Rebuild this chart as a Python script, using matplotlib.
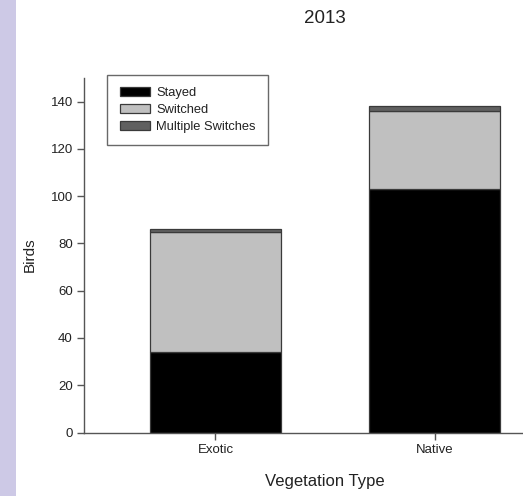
import matplotlib
matplotlib.use("Agg")
import matplotlib.pyplot as plt
from matplotlib.patches import Rectangle
import numpy as np

plt.rcParams['font.family'] = ['Liberation Sans', 'DejaVu Sans']

categories = ["Exotic", "Native"]
stayed = [34, 103]
switched = [51, 33]
multiple = [1, 2]
series_labels = ["Stayed", "Switched", "Multiple Switches"]
series_colors = ["#000000", "#c0c0c0", "#606060"]
yticks = [0, 20, 40, 60, 80, 100, 120, 140]

W, H = 523, 496
fig = plt.figure(figsize=(W / 100, H / 100), dpi=100)
fig.patch.set_facecolor("white")

# lavender strip down the left edge
fig.patches.append(Rectangle((0, 0), 16 / W, 1, transform=fig.transFigure,
                             facecolor="#cdc9e6", edgecolor="none", zorder=0))

left, right = 84 / W, 566 / W
bottom, top = 1 - 432.5 / H, 1 - 78 / H
ax = fig.add_axes([left, bottom, right - left, top - bottom])

x = np.arange(len(categories))
width = 0.6
edge = "#3a3a3a"
base = np.zeros(len(categories))
for vals, lab, col in zip([stayed, switched, multiple], series_labels, series_colors):
    ax.bar(x, vals, width, bottom=base, color=col, edgecolor=edge, linewidth=0.9,
           label=lab, zorder=2)
    base = base + np.array(vals)

ax.set_xlim(-0.6, 1.6)
ax.set_ylim(0, 150)
ax.set_yticks(yticks)
ax.set_xticks(x)
ax.set_xticklabels(categories)

for s in ["top", "right"]:
    ax.spines[s].set_visible(False)
for s in ["left", "bottom"]:
    ax.spines[s].set_color("#555555")
    ax.spines[s].set_linewidth(1.0)
ax.tick_params(axis="both", direction="out", length=5, width=1.0, color="#555555",
               labelsize=9.5, labelcolor="#222222", pad=3)

ax.set_xlabel("Vegetation Type", fontsize=12, color="#222222", labelpad=13)
fig.text(29.5 / W, 1 - 254.7 / H, "Birds", rotation=90, ha="center", va="center",
         fontsize=11, color="#222222")

fig.text((left + right) / 2, 1 - 22.7 / H, "2013", ha="center", va="baseline",
         fontsize=13.5, color="#222222")

leg = ax.legend(loc="upper left", bbox_to_anchor=(107.3 / W, 1 - 75 / H),
                bbox_transform=fig.transFigure, borderaxespad=0, fontsize=9.3,
                frameon=True, fancybox=False, handlelength=2.35, handleheight=0.7,
                handletextpad=0.5, labelspacing=0.38, borderpad=0.95)
leg.get_frame().set_edgecolor("#444444")
leg.get_frame().set_linewidth(1.0)
for t in leg.get_texts():
    t.set_color("#222222")

fig.savefig("out.png", dpi=100)
